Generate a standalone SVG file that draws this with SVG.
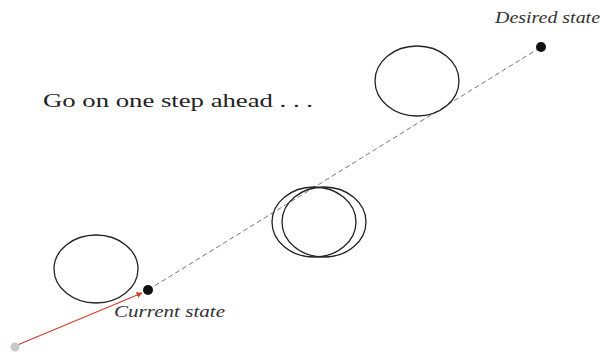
<svg xmlns="http://www.w3.org/2000/svg" width="603" height="354" viewBox="0 0 603 354">
<style>
.lbl{font-family:"Liberation Serif",serif;font-style:italic;fill:#333;}
.circ{fill:none;stroke:#222;stroke-width:1.3;}
</style>
<defs>
<marker id="arr" viewBox="0 0 10 10" refX="9" refY="5" markerWidth="5" markerHeight="5" orient="auto">
<path d="M0,0 L10,5 L0,10 z" fill="#d04030"/>
</marker>
</defs>
<rect width="603" height="354" fill="#fff"/>
<g id="connectors">
<line x1="148" y1="290" x2="541" y2="47" stroke="#777" stroke-width="1" stroke-dasharray="5,3"/>
<line x1="15" y1="346" x2="142" y2="293" stroke="#d04030" stroke-width="1.2" marker-end="url(#arr)"/>
</g>
<g id="circle-start"><ellipse class="circ" cx="96" cy="269" rx="42" ry="34"/></g>
<g id="circle-mid-1"><ellipse class="circ" cx="314" cy="222" rx="42" ry="35"/></g>
<g id="circle-mid-2"><ellipse class="circ" cx="324" cy="222" rx="42" ry="35" stroke="#666"/></g>
<g id="circle-end"><ellipse class="circ" cx="417" cy="81" rx="42" ry="35"/></g>
<g id="origin"><circle cx="15" cy="347" r="4.5" fill="#c5ccc5"/></g>
<g id="current"><circle cx="148" cy="290" r="5" fill="#111"/>
<text class="lbl" x="114" y="317" font-size="17" textLength="111" lengthAdjust="spacingAndGlyphs">Current state</text></g>
<g id="desired"><circle cx="541" cy="47" r="5" fill="#111"/>
<text class="lbl" x="495" y="23" font-size="17" textLength="105" lengthAdjust="spacingAndGlyphs">Desired state</text></g>
<text x="43" y="107" font-family="Liberation Serif,serif" font-size="19" fill="#222" textLength="270" lengthAdjust="spacingAndGlyphs">Go on one step ahead . . .</text>
</svg>
